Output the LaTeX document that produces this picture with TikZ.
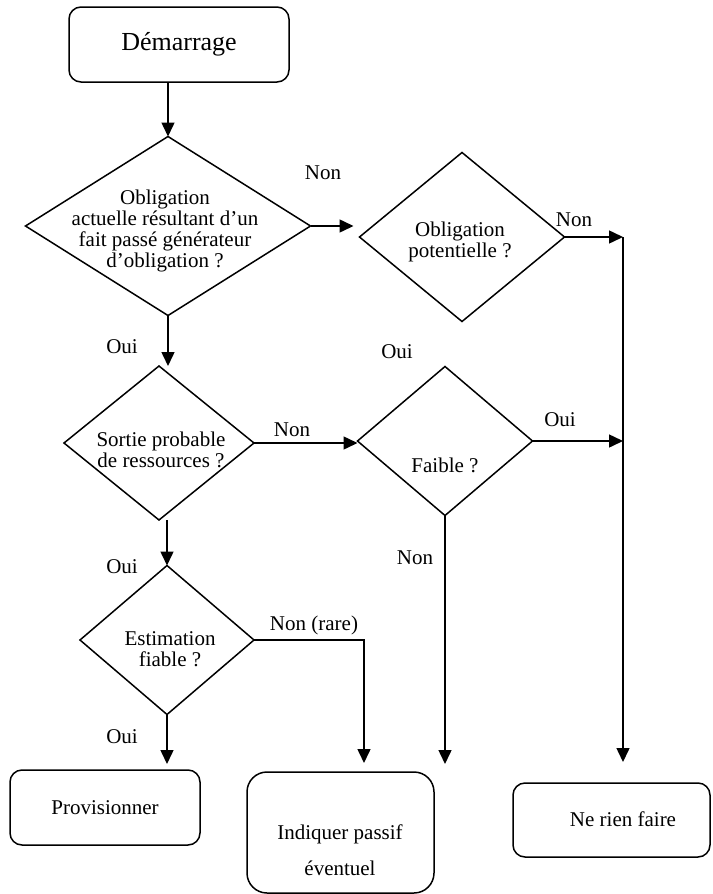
\documentclass[tikz,border=0pt]{standalone}
\usepackage{fontspec}
\setmainfont{Liberation Serif}
\usetikzlibrary{positioning}
\usetikzlibrary{shapes.geometric,calc}
\usetikzlibrary{arrows.meta}

\begin{document}
\begin{tikzpicture}[x=1pt, y=-1pt,
		box/.style={draw, rounded corners=12pt, line width=1.5pt, inner sep=0pt, outer sep=0pt},
		decision/.style={draw, diamond, line width=1.5pt, inner sep=0pt, outer sep=0pt},
		txt/.style={align=center, font=\fontsize{21}{21.3}\selectfont, inner sep=0pt},
		lbl/.style={font=\fontsize{21}{21}\selectfont, inner sep=0pt},
		flow/.style={line width=1.5pt, -{Triangle[length=14pt, width=13pt]}}]
	\useasboundingbox (0,0) rectangle (712,894);
	%\draw[thin] (0,0) rectangle (712,894);
	\node[box, minimum width=220pt, minimum height=75pt, font=\fontsize{26}{26}\selectfont] (start) at (179,44.5) {Démarrage};
	% questions
	\node[decision, minimum width=285pt, minimum height=179pt] (d1) at (168,226) {};
	\node[txt] (t1) at (165,231) {Obligation\\actuelle résultant d’un\\fait passé générateur\\d’obligation ?};
	\node[decision, minimum width=205pt, minimum height=169pt] (d2) at (462,237) {};
	\node[txt] (t2) at (460,242) {Obligation\\potentielle ?};
	\node[decision, minimum width=190pt, minimum height=154pt] (d3) at (159,443) {};
	\node[txt] (t3) at (161,450) {Sortie probable\\de ressources ?};
	\node[decision, minimum width=175pt, minimum height=149pt] (d4) at (445,441) {};
	\node[txt] (t4) at (445,465) {Faible ?};
	\node[decision, minimum width=174pt, minimum height=149pt] (d5) at (167,640) {};
	\node[txt] (t5) at (170,649) {Estimation\\fiable ?};
	% outcomes
	\node[box, minimum width=190pt, minimum height=75pt, txt] (prov) at (105,807.5) {Provisionner};
	\node[box, rounded corners=20pt, minimum width=187pt, minimum height=121pt] (ind) at (340.5,832.5) {};
	\node[txt, font=\fontsize{21}{36}\selectfont] (indt) at (340,850) {Indiquer passif\\éventuel};
	\node[box, minimum width=197pt, minimum height=74pt] (rien) at (611.5,820) {};
	\node[txt] (rient) at (623,819) {Ne rien faire};
	\coordinate (rail) at (623,762);
	\coordinate (nr) at (364,763);
	\coordinate (bot) at (0,764);
	% connectors
	\draw[flow] (start.south -| d1.north) -- (d1.north);
	\draw[flow, shorten >=6pt] (d1.east) -- (d1.east -| d2.west);
	\draw[flow] (d2.east) -- (d2.east -| rail);
	\draw[flow] (d2.east -| rail) -- (rail);
	\draw[flow] (d1.south) -- (d1.south |- d3.north);
	\draw[flow] (d3.east) -- (d3.east -| d4.west);
	\draw[flow] (d4.east) -- (d4.east -| rail);
	\draw[flow] (d4.south) -- (d4.south |- bot);
	\draw[flow] (d3.south -| d5.north) -- (d5.north);
	\draw[flow] (d5.east) -| (nr);
	\draw[flow] (d5.south) -- (d5.south |- bot);
	% answers
	\node[lbl] (n1) at (323,173) {Non};
	\node[lbl] (n2) at (574,220) {Non};
	\node[lbl] (o1) at (122,347) {Oui};
	\node[lbl] (o2) at (397,352) {Oui};
	\node[lbl] (n3) at (292,430) {Non};
	\node[lbl] (o3) at (560,420) {Oui};
	\node[lbl] (n4) at (415,558) {Non};
	\node[lbl] (o4) at (122,567) {Oui};
	\node[lbl] (n5) at (314,625) {Non (rare)};
	\node[lbl] (o5) at (122,737) {Oui};
\end{tikzpicture}
\end{document}
